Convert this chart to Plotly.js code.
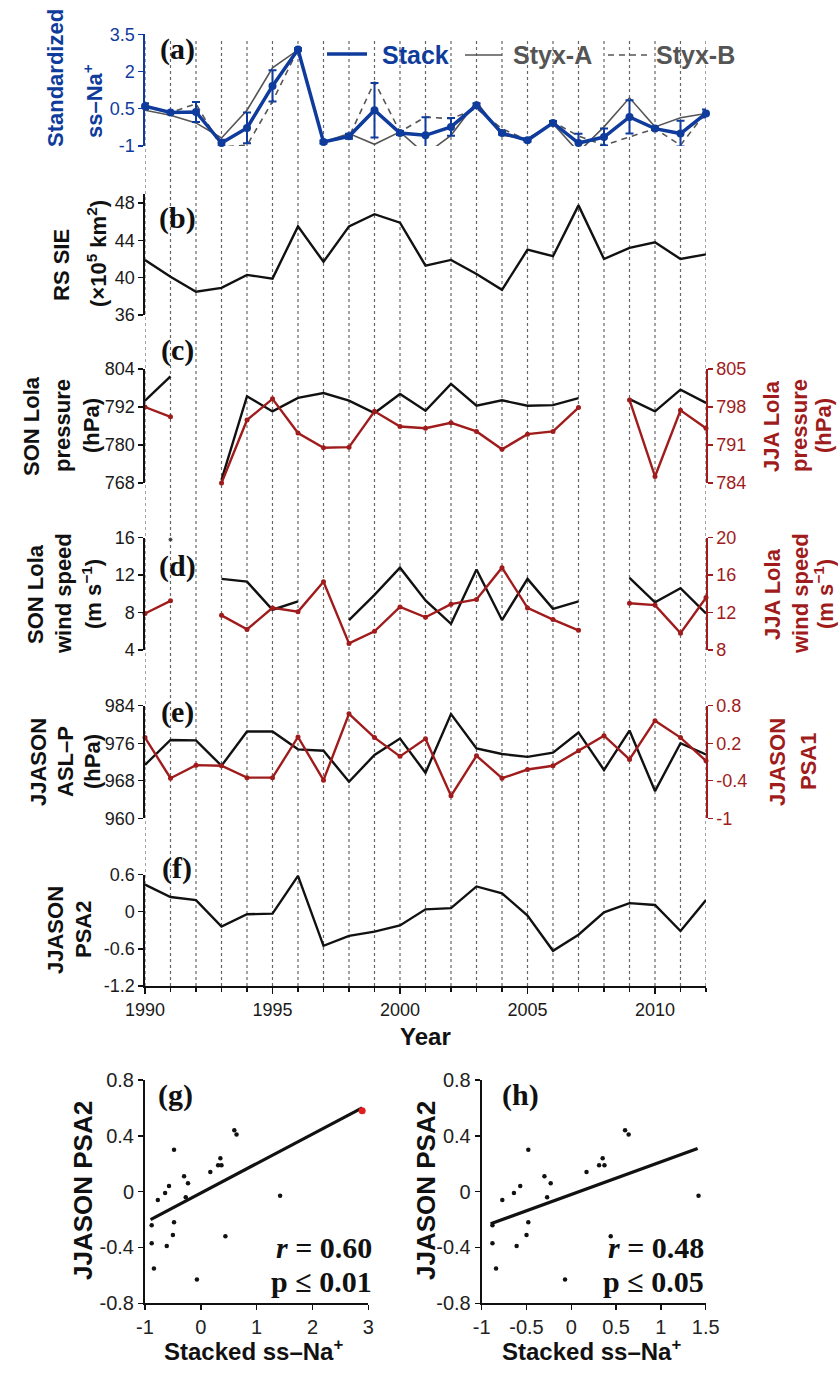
<!DOCTYPE html>
<html><head><meta charset="utf-8">
<script src="https://cdn.plot.ly/plotly-3.0.1.min.js"></script>
<style>html,body{margin:0;padding:0;background:#fff}</style>
</head><body><div id="chart" style="width:838px;height:1374px"></div>
<script>
// ---------- data ----------
const years   = [1990,1991,1992,1993,1994,1995,1996,1997,1998,1999,2000,2001,2002,2003,2004,2005,2006,2007,2008,2009,2010,2011,2012];
const stackNa = [0.60,0.35,0.37,-0.88,-0.27,1.42,2.89,-0.84,-0.61,0.44,-0.48,-0.57,-0.23,0.64,-0.48,-0.77,-0.07,-0.88,-0.64,0.17,-0.30,-0.50,0.31];
const stackErr= [0.12,0.00,0.40,0.13,0.62,0.63,0.05,0.06,0.10,1.10,0.08,0.73,0.36,0.08,0.06,0.05,0.08,0.37,0.34,0.67,0.06,0.52,0.16];
const styxA   = [0.44,0.24,-0.07,-0.68,0.44,2.15,2.87,-0.84,-0.50,-0.93,-0.43,-1.34,-0.57,0.78,-0.57,-0.70,-0.10,-1.24,-0.23,0.94,-0.23,0.14,0.31];
const styxB   = [0.64,0.35,0.70,-1.04,-0.97,0.80,2.89,-0.84,-0.64,1.59,-0.43,0.17,0.10,0.51,-0.30,-0.77,-0.03,-0.60,-0.97,-0.64,-0.30,-0.97,0.37];
const rsSIE   = [41.9,40.1,38.5,38.9,40.3,39.9,45.5,41.7,45.5,46.8,45.9,41.3,41.9,40.4,38.7,43.0,42.3,47.75,42.0,43.2,43.8,42.0,42.5];
const sonPres = [794.0,801.7,null,769.0,795.4,790.6,794.9,796.4,794.0,790.1,796.1,790.8,799.3,792.4,794.1,792.4,792.6,794.8,null,794.5,790.6,797.5,793.3];
const jjaPres = [798.0,796.2,null,784.0,795.6,799.5,793.2,790.5,790.6,797.2,794.4,794.1,795.1,793.5,790.2,793.0,793.5,797.9,null,799.3,785.2,797.4,794.1];
const sonWind = [null,15.8,null,11.6,11.3,8.3,9.2,null,7.2,9.9,12.8,9.3,6.8,12.6,7.2,11.6,8.4,9.2,null,11.7,9.1,10.6,7.9];
const jjaWind = [11.9,13.25,null,11.7,10.2,12.5,12.1,15.3,8.7,10.0,12.6,11.5,12.9,13.4,16.8,12.5,11.25,10.1,null,13.0,12.8,9.8,13.6];
const aslP    = [971.4,976.7,976.6,971.2,978.5,978.5,974.7,974.4,967.8,973.5,977.0,969.7,982.2,974.9,973.7,973.1,974.0,978.3,970.3,978.7,965.8,976.0,973.6];
const psa1    = [0.29,-0.36,-0.15,-0.16,-0.35,-0.35,0.30,-0.39,0.67,0.29,-0.01,0.27,-0.64,0.00,-0.36,-0.22,-0.16,0.08,0.32,-0.06,0.56,0.29,-0.08];
const psa2    = [0.44,0.24,0.19,-0.24,-0.04,-0.03,0.58,-0.55,-0.39,-0.32,-0.22,0.04,0.06,0.41,0.30,-0.06,-0.63,-0.37,-0.01,0.14,0.11,-0.31,0.19];
const outlierYear = 1996;
const fitG_x = [-0.90, 2.89], fitG_y = [-0.20, 0.60];
const fitH_x = [-0.90, 1.41], fitH_y = [-0.23, 0.31];
const ticksA = [-1,0.5,2,3.5], ticksB=[36,40,44,48], ticksCL=[768,780,792,804], ticksCR=[784,791,798,805];
const ticksDL=[4,8,12,16], ticksDR=[8,12,16,20], ticksEL=[960,968,976,984], ticksER=[-1,-0.4,0.2,0.8], ticksF=[-1.2,-0.6,0,0.6];
const ticksGY=[-0.8,-0.4,0,0.4,0.8], ticksGX=[-1,0,1,2,3], ticksHX=[-1,-0.5,0,0.5,1,1.5];

// ---------- style ----------
const W=838, H=1374;
const px=x=>x/W, py=y=>1-y/H;
const BLUE='#0f3c9c', RED='#a01c1c', GREY='#555555', BLK='#111111';
const SANS='Liberation Sans, Arial, sans-serif', SERIF='Liberation Serif, Times New Roman, serif';
const tf = c=>({family:SANS,size:18,color:c||'#1a1a1a'});
const tt = tv=>tv.map(v=>String(v));   // plain hyphen minus like the reference

const isoSize = arr => arr.map((v,i)=> (v!==null && (i===0||arr[i-1]===null) && (i===arr.length-1||arr[i+1]===null)) ? 5 : 0);
const keep = (arr)=>arr.filter((v,i)=>years[i]!==outlierYear);
const only = (arr)=>arr.filter((v,i)=>years[i]===outlierYear);

const traces = [
  {x:years,y:styxA,yaxis:'y',mode:'lines',line:{color:GREY,width:1.6},cliponaxis:false},
  {x:years,y:styxB,yaxis:'y',mode:'lines',line:{color:GREY,width:1.6,dash:'6px,5px'},cliponaxis:false},
  {x:years,y:stackNa,yaxis:'y',mode:'lines+markers',line:{color:BLUE,width:3.5},marker:{color:BLUE,size:8},
   error_y:{type:'data',array:stackErr,visible:true,color:BLUE,thickness:2,width:4},cliponaxis:false},
  {x:years,y:rsSIE,yaxis:'y2',mode:'lines',line:{color:BLK,width:2.4},cliponaxis:false},
  {x:years,y:sonPres,yaxis:'y3',mode:'lines',line:{color:BLK,width:2.4},cliponaxis:false},
  {x:years,y:jjaPres,yaxis:'y4',mode:'lines+markers',line:{color:RED,width:2.4},marker:{color:RED,size:5},cliponaxis:false},
  {x:years,y:sonWind,yaxis:'y5',mode:'lines+markers',line:{color:BLK,width:2.4},marker:{color:BLK,size:isoSize(sonWind)},cliponaxis:false},
  {x:years,y:jjaWind,yaxis:'y6',mode:'lines+markers',line:{color:RED,width:2.4},marker:{color:RED,size:5},cliponaxis:false},
  {x:years,y:aslP,yaxis:'y7',mode:'lines',line:{color:BLK,width:2.4},cliponaxis:false},
  {x:years,y:psa1,yaxis:'y8',mode:'lines+markers',line:{color:RED,width:2.4},marker:{color:RED,size:5},cliponaxis:false},
  {x:years,y:psa2,yaxis:'y9',mode:'lines',line:{color:BLK,width:2.4},cliponaxis:false},
  // (g)
  {x:fitG_x,y:fitG_y,xaxis:'x2',yaxis:'y10',mode:'lines',line:{color:BLK,width:3.2},cliponaxis:false},
  {x:keep(stackNa),y:keep(psa2),xaxis:'x2',yaxis:'y10',mode:'markers',marker:{size:4.5,color:BLK,line:{width:0}},cliponaxis:false},
  {x:only(stackNa),y:only(psa2),xaxis:'x2',yaxis:'y10',mode:'markers',marker:{size:7,color:'#e01e1e',line:{width:0}},cliponaxis:false},
  // (h)
  {x:fitH_x,y:fitH_y,xaxis:'x3',yaxis:'y11',mode:'lines',line:{color:BLK,width:3.2},cliponaxis:false},
  {x:keep(stackNa),y:keep(psa2),xaxis:'x3',yaxis:'y11',mode:'markers',marker:{size:4.5,color:BLK,line:{width:0}},cliponaxis:false}
];

function yax(dom, range, tv, color){
  return {domain:[py(dom[1]),py(dom[0])],range:range,tickvals:tv,ticktext:tt(tv),anchor:'x',showline:true,linecolor:color||BLK,linewidth:1.6,
    ticks:'outside',ticklen:5,tickwidth:1.4,tickcolor:color||BLK,tickfont:tf(color),showgrid:false,zeroline:false,fixedrange:true};
}
function ryax(over, range, tv){
  return {overlaying:over,side:'right',anchor:'x',range:range,tickvals:tv,ticktext:tt(tv),showline:true,linecolor:RED,linewidth:1.6,
    ticks:'outside',ticklen:5,tickwidth:1.4,tickcolor:RED,tickfont:tf(RED),showgrid:false,zeroline:false,fixedrange:true};
}
const stf={family:SANS,size:20,color:'#222'};
function sax(dom, range, tv, anchor, isY){
  return {domain:isY?[py(dom[1]),py(dom[0])]:[px(dom[0]),px(dom[1])],range:range,tickvals:tv,ticktext:tt(tv),anchor:anchor,
    showline:true,linewidth:2,linecolor:BLK,ticks:'outside',ticklen:5,tickwidth:1.5,tickcolor:BLK,tickfont:stf,
    showgrid:false,zeroline:false,fixedrange:true};
}

const shapes = years.map(yr=>({type:'line',xref:'x',yref:'paper',x0:yr,x1:yr,y0:py(986),y1:py(38),
  line:{color:'#666',width:1.2,dash:'3px,3px'},layer:'below'}));
// legend samples
shapes.push({type:'line',xref:'paper',yref:'paper',x0:px(327),x1:px(367),y0:py(54),y1:py(54),line:{color:BLUE,width:3.5}});
shapes.push({type:'line',xref:'paper',yref:'paper',x0:px(465),x1:px(502),y0:py(55),y1:py(55),line:{color:GREY,width:1.6}});
shapes.push({type:'line',xref:'paper',yref:'paper',x0:px(608),x1:px(647),y0:py(55),y1:py(55),line:{color:GREY,width:1.6,dash:'6px,5px'}});

const anns=[];
function ann(text,x,y,o){anns.push(Object.assign({text:text,x:px(x),y:py(y),xref:'paper',yref:'paper',showarrow:false,
  xanchor:'center',yanchor:'middle'},o||{}));}
const ttl=(c,s)=>({family:SANS,size:s||22,color:c||BLK});
function vt(text,x,y,c,s){ann('<b>'+text+'</b>',x,y,{textangle:-90,font:ttl(c,s)});}

// legend text
ann('<b>Stack</b>',380,55,{xanchor:'left',font:ttl(BLUE,25)});
ann('<b>Styx-A</b>',511,55,{xanchor:'left',font:ttl(GREY,25)});
ann('<b>Styx-B</b>',654,55,{xanchor:'left',font:ttl(GREY,25)});
// panel labels
const pl=(t,x,y)=>ann('<b>'+t+'</b>',x,y,{font:{family:SERIF,size:30,color:BLK}});
pl('(a)',177,49); pl('(b)',177,218); pl('(c)',177,350); pl('(d)',177,566); pl('(e)',177,712); pl('(f)',177,868);
pl('(g)',175,1095); pl('(h)',520,1095);
// axis titles
vt('Standardized',55,78,BLUE); vt('ss–Na<sup>+</sup>',93,101,BLUE);
vt('RS SIE',61,265); vt('(×10<sup>5</sup> km<sup>2</sup>)',97,254);
vt('SON Lola',32,426); vt('pressure',63,426); vt('(hPa)',92,426);
vt('JJA Lola',772,426,RED); vt('pressure',800,426,RED); vt('(hPa)',824,426,RED);
vt('SON Lola',35,594); vt('wind speed',63,594); vt('(m s<sup>−1</sup>)',92,594);
vt('JJA Lola',772,594,RED); vt('wind speed',800,594,RED); vt('(m s<sup>−1</sup>)',824,594,RED);
vt('JJASON',38,762); vt('ASL–P',65,762); vt('(hPa)',92,762);
vt('JJASON',777,762,RED); vt('PSA1',808,762,RED);
vt('JJASON',55,930); vt('PSA2',83,930);
ann('<b>Year</b>',425,1036,{font:ttl(BLK,24)});
vt('JJASON PSA2',83,1191,BLK,26); vt('JJASON PSA2',426,1191,BLK,26);
ann('<b>Stacked ss–Na<sup>+</sup></b>',253,1350,{font:ttl(BLK,24)});
ann('<b>Stacked ss–Na<sup>+</sup></b>',591,1350,{font:ttl(BLK,24)});
const st={family:SERIF,size:30,color:BLK};
ann('<b><i>r</i> = 0.60</b>',374,1247,{xanchor:'right',font:st});
ann('<b>p ≤ 0.01</b>',374,1281,{xanchor:'right',font:st});
ann('<b><i>r</i> = 0.48</b>',706,1247,{xanchor:'right',font:st});
ann('<b>p ≤ 0.05</b>',706,1281,{xanchor:'right',font:st});

const layout = {
  width:W,height:H,margin:{l:0,r:0,t:0,b:0,pad:0},showlegend:false,
  paper_bgcolor:'#fff',plot_bgcolor:'rgba(0,0,0,0)',font:{family:SANS},
  xaxis:{domain:[px(145),px(706)],range:[1990,2012],anchor:'y9',showline:true,linewidth:2.2,linecolor:BLK,
    ticks:'outside',ticklen:6,tickwidth:1.5,tickcolor:BLK,tick0:1990,dtick:5,
    minor:{dtick:1,ticks:'outside',ticklen:4,tickwidth:1.2,tickcolor:BLK},
    tickfont:tf(),showgrid:false,zeroline:false,fixedrange:true},
  yaxis: yax([34.3,146],[-1,3.5],ticksA,BLUE),
  yaxis2:yax([193.7,315],[36,49],ticksB),
  yaxis3:yax([369,483],[768,804],ticksCL),
  yaxis4:ryax('y3',[784,805],ticksCR),
  yaxis5:yax([537.7,650],[4,16],ticksDL),
  yaxis6:ryax('y5',[8,20],ticksDR),
  yaxis7:yax([705.7,818.3],[960,984],ticksEL),
  yaxis8:ryax('y7',[-1,0.8],ticksER),
  yaxis9:yax([874.7,986],[-1.2,0.6],ticksF),
  xaxis2:sax([145,368.3],[-1,3],ticksGX,'y10',false),
  yaxis10:sax([1080,1303.3],[-0.8,0.8],ticksGY,'x2',true),
  xaxis3:sax([481.7,705.7],[-1,1.5],ticksHX,'y11',false),
  yaxis11:sax([1080,1303.3],[-0.8,0.8],ticksGY,'x3',true),
  shapes:shapes, annotations:anns
};
Plotly.newPlot('chart',traces,layout,{staticPlot:true,displayModeBar:false});
</script></body></html>
